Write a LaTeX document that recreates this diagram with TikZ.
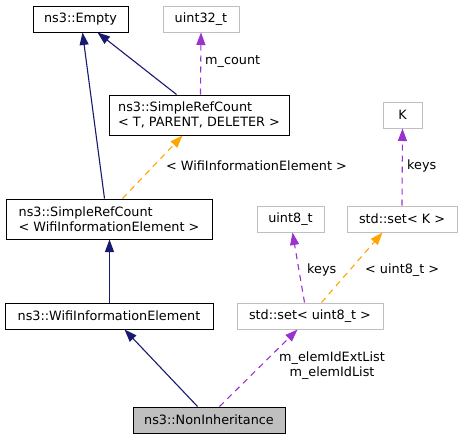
\documentclass[tikz,border=0pt]{standalone}
\usepackage{fontspec}
\setmainfont{DejaVu Sans}
\usetikzlibrary{arrows.meta,calc}
\definecolor{navy}{HTML}{191970}
\definecolor{purp}{HTML}{9A32CD}
\definecolor{orng}{HTML}{FFA500}
\definecolor{lgray}{HTML}{BFBFBF}
\begin{document}
\begin{tikzpicture}[x=1pt,y=-1pt,
  box/.style={draw=black,line width=1pt,rectangle,inner sep=0pt,minimum height=26pt,align=left,font=\fontsize{12.8}{15}\selectfont},
  lbox/.style={box,draw=lgray},
  tall/.style={minimum height=40pt},
  inh/.style={draw=navy,line width=1.1pt,-{Triangle[length=12.5pt,width=9pt]}},
  usep/.style={draw=purp,line width=1.1pt,dash pattern=on 6pt off 5pt,-{Triangle[length=12.5pt,width=9pt]}},
  tmpl/.style={draw=orng,line width=1.1pt,dash pattern=on 6pt off 5pt,-{Triangle[length=12.5pt,width=9pt]}},
  lbl/.style={font=\fontsize{12.8}{15}\selectfont,inner sep=0pt,align=center}
]
\useasboundingbox (0,0) rectangle (463,439);
\node[box,minimum width=95pt] (empty) at (80.5,19) {ns3::Empty};
\node[lbox,minimum width=76pt] (u32) at (201,19) {uint32\_t};
\node[box,tall,minimum width=180pt] (srct) at (199,115) {ns3::SimpleRefCount\\< T, PARENT, DELETER >};
\node[lbox,minimum width=39pt] (k) at (402.5,115) {K};
\node[box,tall,minimum width=206pt] (srcw) at (109,219) {ns3::SimpleRefCount\\< WifiInformationElement >};
\node[lbox,minimum width=67pt] (u8) at (290.5,219) {uint8\_t};
\node[lbox,minimum width=110pt] (setk) at (402,219) {std::set< K >};
\node[box,minimum width=208pt] (wie) at (109,316) {ns3::WifiInformationElement};
\node[lbox,minimum width=146pt] (setu8) at (310,316) {std::set< uint8\_t >};
\node[box,fill=lgray,minimum width=152pt] (noninh) at (209,420) {ns3::NonInheritance};

\draw[inh] ([xshift=99pt]srcw.north west) -- ([xshift=50pt]empty.south west);
\draw[inh] ([xshift=68pt]srct.north west) -- ([xshift=65pt]empty.south west);
\draw[usep] ([xshift=92pt]srct.north west) -- (u32.south);
\node[lbl,anchor=west] at (205,62) {m\_count};
\draw[tmpl] ([xshift=117pt]srcw.north west) -- ([xshift=74pt]srct.south west);
\node[lbl,anchor=west] at (166,166) {< WifiInformationElement >};
\draw[inh] ([xshift=0.5pt]wie.north) -- ([xshift=0.5pt]srcw.south);
\draw[inh] ([xshift=65pt]noninh.north west) -- ([xshift=120pt]wie.south west);
\draw[usep] ([xshift=87pt]noninh.north west) -- ([xshift=61pt]setu8.south west);
\node[lbl] at (332,366) {m\_elemIdExtList\\m\_elemIdList};
\draw[usep] ([xshift=68pt]setu8.north west) -- ([xshift=36pt]u8.south west);
\node[lbl,anchor=west] at (307,270) {keys};
\draw[tmpl] ([xshift=85pt]setu8.north west) -- ([xshift=36pt]setk.south west);
\node[lbl,anchor=west] at (365,270) {< uint8\_t >};
\draw[usep] (setk.north) -- (k.south);
\node[lbl,anchor=west] at (407,166) {keys};
\end{tikzpicture}
\end{document}
